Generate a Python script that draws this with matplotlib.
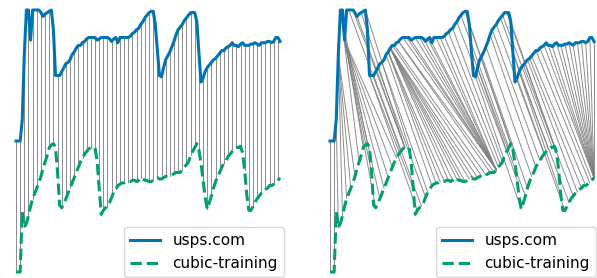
import matplotlib.pyplot as plt
import numpy as np

# values, both series scaled to [0, 1]
usps = [0.00, 0.00, 0.00, 0.16, 0.66, 1.00, 1.00, 0.77, 1.00, 1.00,
        1.00, 1.00, 0.98, 0.95, 0.97, 0.98, 0.99, 1.00, 0.85, 0.50,
        0.50, 0.50, 0.53, 0.56, 0.59, 0.60, 0.62, 0.66, 0.68, 0.71,
        0.73, 0.73, 0.75, 0.76, 0.78, 0.79, 0.79, 0.79, 0.79, 0.77,
        0.78, 0.79, 0.79, 0.79, 0.79, 0.78, 0.76, 0.78, 0.79, 0.75,
        0.79, 0.79, 0.79, 0.79, 0.79, 0.80, 0.82, 0.83, 0.85, 0.86,
        0.89, 0.91, 0.94, 0.96, 0.98, 0.99, 0.99, 0.89, 0.69, 0.50,
        0.49, 0.56, 0.62, 0.65, 0.68, 0.72, 0.76, 0.81, 0.85, 0.87,
        0.89, 0.92, 0.94, 0.96, 0.98, 0.98, 0.98, 0.91, 0.67, 0.45,
        0.48, 0.53, 0.56, 0.58, 0.60, 0.62, 0.63, 0.65, 0.67, 0.69,
        0.69, 0.71, 0.72, 0.73, 0.75, 0.73, 0.73, 0.72, 0.74, 0.75,
        0.73, 0.73, 0.73, 0.74, 0.74, 0.75, 0.74, 0.73, 0.75, 0.75,
        0.75, 0.76, 0.76, 0.75, 0.76, 0.79, 0.79, 0.76]

cubic = [0.00, 0.00, 0.00, 0.46, 0.34, 0.37, 0.43, 0.50, 0.56, 0.60,
         0.64, 0.68, 0.73, 0.79, 0.84, 0.89, 0.95, 0.97, 0.98, 0.95,
         0.76, 0.51, 0.49, 0.52, 0.56, 0.60, 0.64, 0.68, 0.72, 0.76,
         0.80, 0.84, 0.87, 0.90, 0.92, 0.94, 0.95, 0.95, 0.95, 0.85,
         0.64, 0.44, 0.47, 0.49, 0.50, 0.53, 0.57, 0.61, 0.63, 0.66,
         0.67, 0.68, 0.68, 0.69, 0.69, 0.69, 0.70, 0.70, 0.69, 0.70,
         0.72, 0.71, 0.70, 0.70, 0.69, 0.69, 0.70, 0.71, 0.72, 0.71,
         0.71, 0.72, 0.73, 0.73, 0.73, 0.74, 0.75, 0.76, 0.76, 0.76,
         0.78, 0.80, 0.82, 0.84, 0.89, 0.92, 0.95, 0.98, 0.93, 0.83,
         0.70, 0.57, 0.48, 0.53, 0.58, 0.64, 0.69, 0.73, 0.76, 0.80,
         0.83, 0.85, 0.88, 0.90, 0.92, 0.94, 0.95, 0.95, 0.96, 0.91,
         0.78, 0.59, 0.47, 0.47, 0.50, 0.53, 0.56, 0.58, 0.60, 0.61,
         0.63, 0.64, 0.66, 0.66, 0.67, 0.68, 0.70, 0.72]

labels = ["usps.com", "cubic-training"]
BLUE = "#0173b2"
GREEN = "#029e73"


def dtw_path(a, b):
    n, m = len(a), len(b)
    acc = np.full((n + 1, m + 1), np.inf)
    acc[0, 0] = 0.0
    for i in range(1, n + 1):
        for j in range(1, m + 1):
            d = (a[i - 1] - b[j - 1]) ** 2
            acc[i, j] = d + min(acc[i - 1, j - 1], acc[i - 1, j], acc[i, j - 1])
    i, j = n, m
    path = [(i - 1, j - 1)]
    while (i, j) != (1, 1):
        steps = [acc[i - 1, j - 1], acc[i - 1, j], acc[i, j - 1]]
        k = int(np.argmin(steps))
        if k == 0:
            i, j = i - 1, j - 1
        elif k == 1:
            i = i - 1
        else:
            j = j - 1
        path.append((i - 1, j - 1))
    return path[::-1]


s1 = np.array(usps)
s2 = np.array(cubic)
n = len(s1)
t = np.arange(n)

identity = [(i, i) for i in range(n)]
warped = dtw_path(s1, s2)

fig = plt.figure(figsize=(5.97, 2.78), dpi=100)
W, H = 597, 278

for left, right_edge, path in [(16, 284, identity), (330, 596, warped)]:
    ax = fig.add_axes([left / W, 6 / H, 264 / W, 262 / H])
    for (i, j) in path[::2]:
        ax.plot([i, j], [s1[i] + 1, s2[j]], color="gray", lw=0.7, alpha=0.9,
                zorder=1, clip_on=False)
    ax.plot(t, s1 + 1, color=BLUE, lw=2.2, label=labels[0], zorder=3,
            clip_on=False)
    ax.plot(t, s2, color=GREEN, lw=2.2, ls="--", label=labels[1], zorder=3,
            clip_on=False)
    ax.set_xlim(0, n - 1)
    ax.set_ylim(0, 2)
    ax.axis("off")
    ax.legend(loc="lower right", fontsize=11, borderaxespad=0,
              bbox_to_anchor=(right_edge / W, 1 / H),
              bbox_transform=fig.transFigure)

fig.savefig("out.png", dpi=100)
